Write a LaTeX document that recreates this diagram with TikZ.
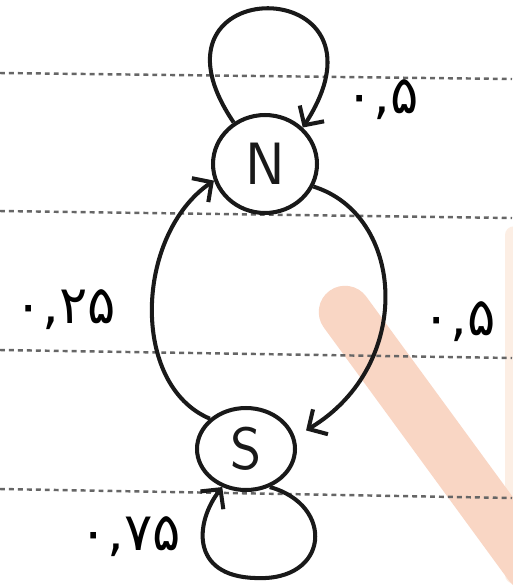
\documentclass[tikz,border=0pt]{standalone}
\usepackage{fontspec}
\setmainfont{DejaVu Sans}
\newfontfamily\fa[Script=Arabic]{DejaVu Sans}
\usetikzlibrary{arrows.meta,shapes.geometric}
\definecolor{peach}{RGB}{249,214,196}
\definecolor{peachlight}{RGB}{252,238,228}
\begin{document}
\begin{tikzpicture}[x=0.02cm,y=-0.02cm,
  ink/.style={line width=2.3pt, black!90},
  state/.style={ellipse, draw, ink, inner sep=0pt, font=\sffamily\fontsize{34}{34}\selectfont},
  arr/.style={ink, -{Straight Barb[length=2.8mm,width=5.8mm]}},
  lbl/.style={font=\fa\fontsize{30}{30}\selectfont, inner sep=0pt},
  ruled/.style={black!60, line width=1.4pt, dash pattern=on 2.8pt off 2.3pt},
  wmark/.style={line cap=round}
]
% page
\fill[white] (0,0) rectangle (512,585);
\useasboundingbox (0,0) rectangle (512,585);
% watermark
\draw[wmark, peachlight, line width=3.5mm] (514,235) -- (514,575);
\draw[wmark, peach, line width=10.5mm] (345,312) -- (530,565);
% ruled paper lines
\draw[ruled] (0,73) -- (512,79);
\draw[ruled] (0,211) -- (512,218);
\draw[ruled] (0,350) -- (512,358);
\draw[ruled] (0,489) -- (512,498);
% states
\node[state, minimum width=2.08cm, minimum height=1.96cm] (N) at (265,164) {N};
\node[state, minimum width=1.96cm, minimum height=1.64cm] (S) at (246,449) {S};
% transitions
\draw[arr] (N.127) .. controls (130,-30) and (405,-30) .. (N.44);
\draw[arr] (N.-25) .. controls (405,215) and (415,365) .. ([xshift=8]S.22);
\draw[arr] (S.140) .. controls (130,385) and (135,235) .. (N.198);
\draw[arr] (S.-58) .. controls (335,505) and (330,582) .. (255,578)
  .. controls (190,576) and (195,522) .. (S.-122);
% labels
\node[lbl] (l1) at (382,100) {۰,۵};
\node[lbl] (l2) at (65,310) {۰,۲۵};
\node[lbl] (l3) at (459,322) {۰,۵};
\node[lbl] (l4) at (130,537) {۰,۷۵};
\end{tikzpicture}
\end{document}
